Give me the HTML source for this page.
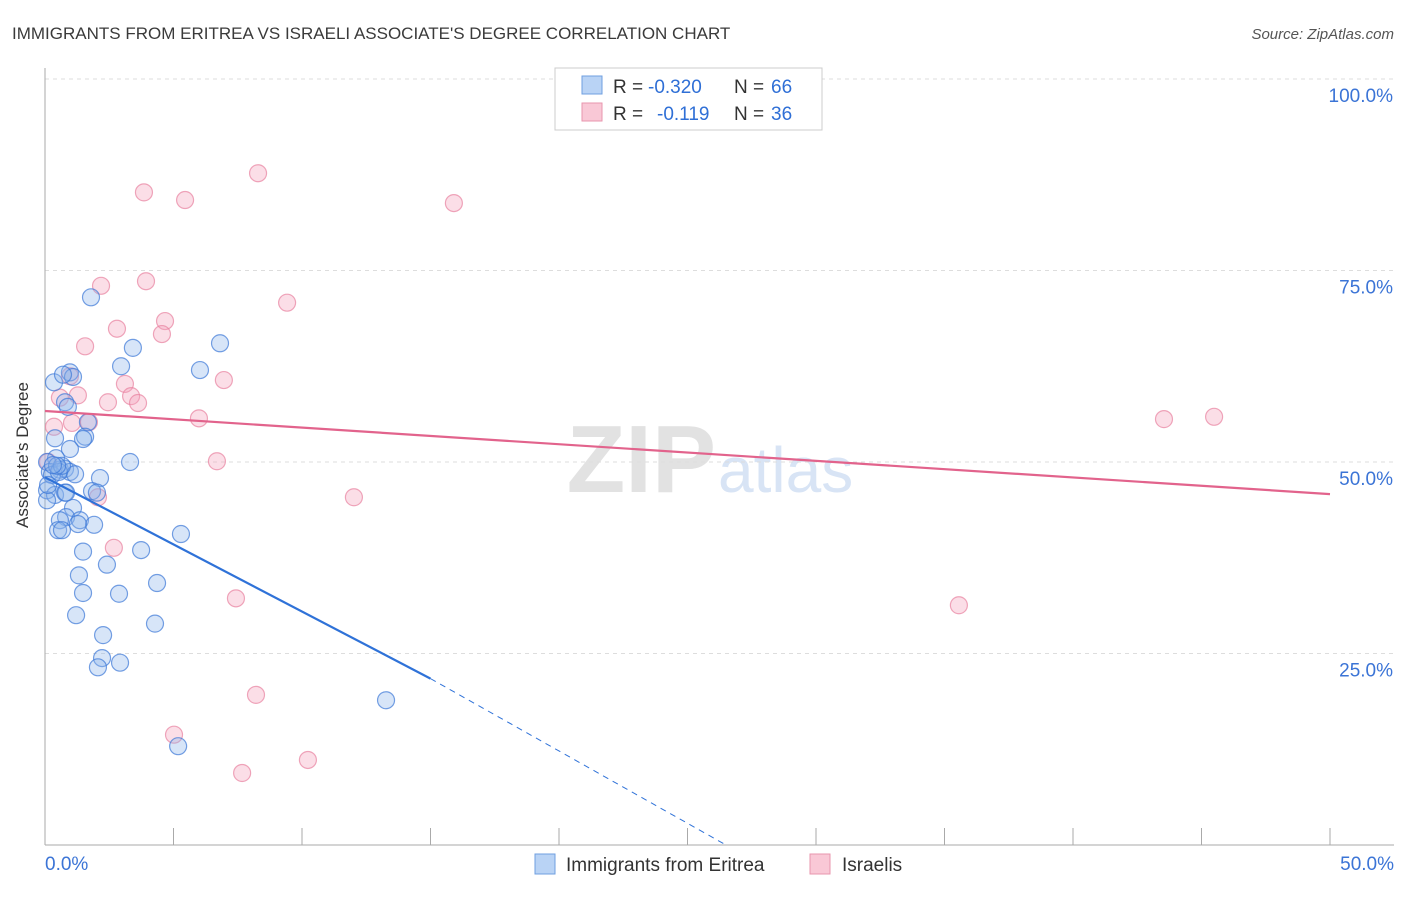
<!DOCTYPE html>
<html><head><meta charset="utf-8"><style>
body{margin:0;background:#fff;font-family:"Liberation Sans",sans-serif}
svg text{font-family:"Liberation Sans",sans-serif}
</style></head><body>
<svg id="c" width="1406" height="892">
<text x="12" y="39" font-size="17" fill="#3a3a3a">IMMIGRANTS FROM ERITREA VS ISRAELI ASSOCIATE'S DEGREE CORRELATION CHART</text>
<text x="1394" y="39" font-size="15" fill="#555" text-anchor="end" font-style="italic">Source: ZipAtlas.com</text>
<text x="716" y="492" font-size="96" fill="#e2e2e2" text-anchor="end" font-family="Liberation Serif" font-weight="bold">ZIP</text>
<text x="718" y="492" font-size="64" fill="#d8e4f5">atlas</text>
<g id="grid"></g><g id="marks"></g><g id="trend"></g>
<text x="28" y="455" font-size="17" fill="#333" transform="rotate(-90 28 455)" text-anchor="middle">Associate's Degree</text>
<g>
<rect x="555" y="68" width="267" height="62" fill="#fff" stroke="#ccc"/>
<rect x="582" y="76" width="20" height="18" fill="#b9d3f5" stroke="#6f9fe0"/>
<rect x="582" y="103" width="20" height="18" fill="#f9c8d6" stroke="#e896ae"/>
<text x="613" y="93" font-size="19" fill="#333">R =</text>
<text x="648" y="93" font-size="19" fill="#2f6fd6">-0.320</text>
<text x="734" y="93" font-size="19" fill="#333">N =</text>
<text x="771" y="93" font-size="19" fill="#2f6fd6">66</text>
<text x="613" y="120" font-size="19" fill="#333">R =</text>
<text x="657" y="120" font-size="19" fill="#2f6fd6">-0.119</text>
<text x="734" y="120" font-size="19" fill="#333">N =</text>
<text x="771" y="120" font-size="19" fill="#2f6fd6">36</text>
</g>
<g>
<rect x="535" y="854" width="20" height="20" fill="#b9d3f5" stroke="#6f9fe0"/>
<text x="566" y="871" font-size="19" fill="#333">Immigrants from Eritrea</text>
<rect x="810" y="854" width="20" height="20" fill="#f9c8d6" stroke="#e896ae"/>
<text x="842" y="871" font-size="19" fill="#333">Israelis</text>
</g>
</svg>
<script>
const xTicks=[0,5,10,15,20,25,30,35,40,45,50];
const yTicks=[25,50,75,100];
const blueX=[1.79,3.42,6.81,2.96,6.03,0.97,1.09,0.35,0.78,0.89,1.67,0.39,1.56,1.48,0.97,3.31,0.43,0.08,0.58,0.19,0.78,0.97,1.17,0.27,2.14,0.08,0.39,0.78,1.83,2.02,1.09,0.82,0.58,1.36,1.91,0.51,0.66,1.28,5.29,1.48,3.74,2.41,1.32,4.36,1.48,2.88,1.21,4.28,2.26,2.22,2.06,2.92,13.27,5.18,0.08,0.12,0.54,0.66,0.47,0.70,0.82,0.31];
const blueY=[71.5,64.9,65.5,62.5,62.0,61.7,61.1,60.4,57.8,57.2,55.2,53.1,53.3,53.0,51.7,50.0,50.5,50.0,49.0,48.7,49.1,48.7,48.4,48.3,47.9,46.3,45.7,46.0,46.2,46.0,44.0,42.8,42.4,42.4,41.8,41.1,41.1,41.9,40.6,38.3,38.5,36.6,35.2,34.2,32.9,32.8,30.0,28.9,27.4,24.4,23.2,23.8,18.9,12.9,45.0,47.0,48.7,49.5,49.5,61.4,46.0,49.6];
const pinkX=[3.85,5.45,8.29,15.91,2.18,3.93,9.42,4.67,2.80,4.55,1.56,6.96,0.97,3.11,1.28,2.45,3.35,3.62,0.58,5.99,1.71,1.05,0.35,6.69,0.12,2.06,12.02,2.68,7.43,35.56,8.21,5.02,7.67,10.23,43.54,45.49];
const pinkY=[85.2,84.2,87.7,83.8,73.0,73.6,70.8,68.4,67.4,66.7,65.1,60.7,61.2,60.2,58.7,57.8,58.6,57.7,58.4,55.7,55.2,55.1,54.6,50.1,50.0,45.4,45.4,38.8,32.2,31.3,19.6,14.4,9.4,11.1,55.6,55.9];
const blueTrend=[48.0,-1.752];
const pinkTrend=[56.66,-0.217];
const NS="http://www.w3.org/2000/svg";
const sx=v=>45+v/50*1285, sy=v=>845-v/100*766;
function mk(tag,attrs,parent){const e=document.createElementNS(NS,tag);for(const k in attrs)e.setAttribute(k,attrs[k]);document.getElementById(parent).appendChild(e);return e;}
yTicks.forEach(t=>{
 const l=mk('line',{x1:45,x2:1394,y1:sy(t),y2:sy(t),stroke:'#ddd','stroke-dasharray':'4,4'},'grid');
 
 
 const tx=mk('text',{x:1393,y:sy(t)+23,'font-size':19,fill:'#3b74d6','text-anchor':'end'},'grid');
 tx.textContent=t.toFixed(1)+'%';
 
 
});
const ax=mk('line',{x1:45,x2:45,y1:68,y2:845,stroke:'#aaa'},'grid');


const bx=mk('line',{x1:45,x2:1394,y1:845,y2:845,stroke:'#aaa'},'grid');


xTicks.forEach(t=>{
 const l=mk('line',{x1:sx(t),x2:sx(t),y1:828,y2:845,stroke:'#aaa'},'grid');
 
 
});
[[0,'start',45],[50,'end',1394]].forEach(([t,a,x])=>{
 const tx=mk('text',{x:x,y:870,'font-size':19,fill:'#3b74d6','text-anchor':a},'grid');
 tx.textContent=t.toFixed(1)+'%';
 
 
});
pinkX.forEach((x,i)=>{
 const c=mk('circle',{cx:sx(x),cy:sy(pinkY[i]),r:8.5,fill:'rgba(244,160,185,0.35)',stroke:'rgba(232,130,160,0.7)','stroke-width':1.2},'marks');
 
 
});
blueX.forEach((x,i)=>{
 const c=mk('circle',{cx:sx(x),cy:sy(blueY[i]),r:8.5,fill:'rgba(140,180,235,0.35)',stroke:'rgba(60,120,215,0.7)','stroke-width':1.2},'marks');
 
 
});
const pl=mk('line',{x1:sx(0),y1:sy(pinkTrend[0]),x2:sx(50),y2:sy(pinkTrend[0]+50*pinkTrend[1]),stroke:'#e2638c','stroke-width':2.2},'trend');


const xEnd=15, xDashEnd=26.5;
const bl=mk('line',{x1:sx(0),y1:sy(blueTrend[0]),x2:sx(xEnd),y2:sy(blueTrend[0]+xEnd*blueTrend[1]),stroke:'#2f72d8','stroke-width':2.2},'trend');


const bd=mk('line',{x1:sx(xEnd),y1:sy(blueTrend[0]+xEnd*blueTrend[1]),x2:sx(xDashEnd),y2:sy(0),stroke:'#2f72d8','stroke-width':1,'stroke-dasharray':'6,5'},'trend');


</script>
</body></html>
